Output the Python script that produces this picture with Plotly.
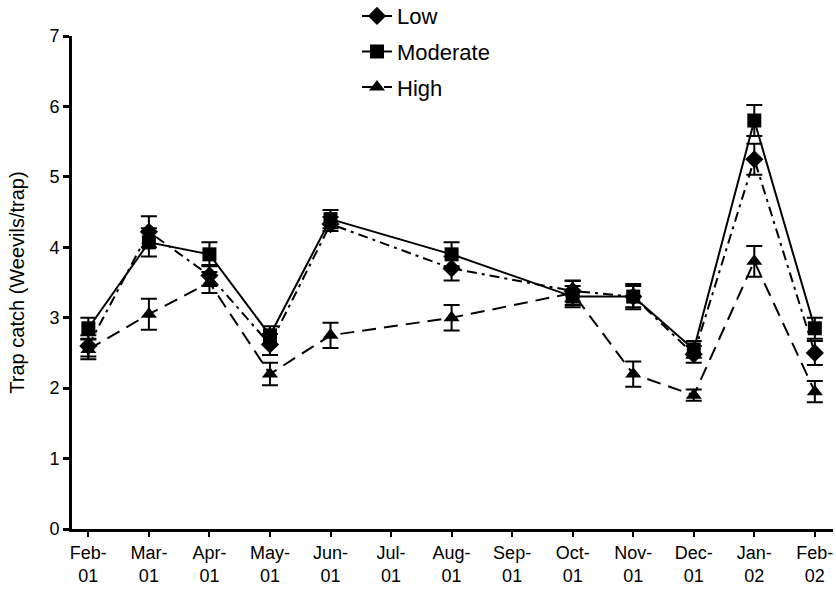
import plotly.graph_objects as go

months = ["Feb-01", "Mar-01", "Apr-01", "May-01", "Jun-01", "Jul-01", "Aug-01",
          "Sep-01", "Oct-01", "Nov-01", "Dec-01", "Jan-02", "Feb-02"]
tick_labels = ["Feb-<br>01", "Mar-<br>01", "Apr-<br>01", "May-<br>01", "Jun-<br>01",
               "Jul-<br>01", "Aug-<br>01", "Sep-<br>01", "Oct-<br>01", "Nov-<br>01",
               "Dec-<br>01", "Jan-<br>02", "Feb-<br>02"]

low = [2.6, 4.22, 3.6, 2.62, 4.33, None, 3.7, None, 3.38, 3.3, 2.48, 5.25, 2.5]
low_err = [0.15, 0.22, 0.15, 0.15, 0.1, None, 0.17, None, 0.15, 0.15, 0.12, 0.22, 0.17]
moderate = [2.85, 4.07, 3.9, 2.75, 4.4, None, 3.9, None, 3.3, 3.3, 2.55, 5.8, 2.85]
moderate_err = [0.15, 0.2, 0.17, 0.13, 0.13, None, 0.17, None, 0.15, 0.18, 0.12, 0.22, 0.15]
high = [2.55, 3.05, 3.5, 2.2, 2.75, None, 3.0, None, 3.35, 2.2, 1.9, 3.8, 1.95]
high_err = [0.14, 0.22, 0.15, 0.16, 0.18, None, 0.18, None, 0.17, 0.18, 0.08, 0.22, 0.15]

series = [
    ("Low", low, low_err, "diamond", "10px,5px,3px,5px"),
    ("Moderate", moderate, moderate_err, "square", "solid"),
    ("High", high, high_err, "triangle-up", "14px,8px"),
]

fig = go.Figure()
for i, (name, vals, errs, sym, dash) in enumerate(series):
    fig.add_trace(go.Scatter(
        x=months, y=vals, name=name, mode="lines+markers",
        connectgaps=True, legendgroup=name,
        line=dict(color="black", width=2, dash=dash),
        marker=dict(symbol=sym, size=14, color="black"),
        error_y=dict(type="data", array=errs, visible=True, color="black",
                     thickness=2, width=8),
    ))

fig.update_layout(
    width=836, height=601,
    margin=dict(l=72, r=3, t=36, b=72, autoexpand=False),
    paper_bgcolor="white", plot_bgcolor="white",
    font=dict(family="Liberation Sans, Arial, sans-serif", size=18, color="black"),
    showlegend=True,
    legend=dict(x=0.3745, y=1.083, xanchor="left", yanchor="top",
                bgcolor="rgba(0,0,0,0)", font=dict(size=22),
                tracegroupgap=4, traceorder="grouped"),
    xaxis=dict(
        type="category", categoryorder="array", categoryarray=months,
        tickmode="array", tickvals=months, ticktext=tick_labels,
        range=[-0.27, 12.3], showline=True, linecolor="black", linewidth=3,
        ticks="outside", ticklen=5, tickwidth=2, tickcolor="black",
        showgrid=False, zeroline=False, tickfont=dict(size=18),
        automargin=False,
    ),
    yaxis=dict(
        range=[0, 7], dtick=1, showline=True, linecolor="black", linewidth=3,
        ticks="outside", ticklen=6, tickwidth=3, tickcolor="black",
        showgrid=False, zeroline=False, tickfont=dict(size=18),
        automargin=False,
        title=dict(text="Trap catch (Weevils/trap)", font=dict(size=20), standoff=20),
    ),
)

fig.write_html(
    "out.html",
    config={"displayModeBar": False},
    post_script="document.body.style.margin='0px';document.body.style.overflow='hidden';",
)
